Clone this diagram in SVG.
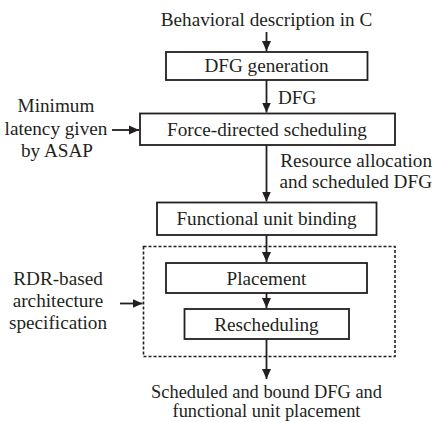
<svg xmlns="http://www.w3.org/2000/svg" width="433" height="422" viewBox="0 0 433 422">
<style>
text{font-family:"Liberation Serif","Times New Roman",serif;font-size:19.2px;fill:#231f20}
.c{text-anchor:middle}
.out{font-size:18.4px}
.box{fill:#fff;stroke:#231f20;stroke-width:1.8}
.dash{fill:none;stroke:#231f20;stroke-width:1.6;stroke-dasharray:3 2}
.ln{stroke:#231f20;stroke-width:1.8;fill:none;marker-end:url(#ah)}
</style>
<defs>
<marker id="ah" markerUnits="userSpaceOnUse" markerWidth="10" markerHeight="10" refX="10" refY="5" orient="auto">
<path d="M0,0.5 L10,5 L0,9.5 z" fill="#231f20"/>
</marker>
</defs>
<rect width="433" height="422" fill="#fff"/>
<g id="input"><text class="c" x="266.5" y="26">Behavioral description in C</text></g>
<g id="dfg-gen"><rect class="box" x="166" y="52" width="201.5" height="28"/><text class="c" x="266.5" y="72">DFG generation</text></g>
<g id="fds"><rect class="box" x="140" y="113.5" width="255" height="31.5"/><text class="c" x="267" y="136">Force-directed scheduling</text></g>
<g id="fub"><rect class="box" x="157" y="202.5" width="219.5" height="32.5"/><text class="c" x="266.5" y="225">Functional unit binding</text></g>
<g id="rdr-group"><rect class="dash" x="143.5" y="246.5" width="251.5" height="110"/></g>
<g id="placement"><rect class="box" x="166" y="263" width="201" height="30"/><text class="c" x="266.5" y="285">Placement</text></g>
<g id="resched"><rect class="box" x="184.5" y="309" width="164.5" height="30"/><text class="c" x="266.5" y="331">Rescheduling</text></g>
<g id="min-latency"><text class="c" x="56" y="112">Minimum</text><text class="c" x="56" y="135">latency given</text><text class="c" x="57" y="157">by ASAP</text></g>
<g id="rdr-spec"><text class="c" x="58" y="285">RDR-based</text><text class="c" x="58" y="307">architecture</text><text class="c" x="58" y="329">specification</text></g>
<g id="output"><text class="c out" x="266.5" y="398">Scheduled and bound DFG and</text><text class="c out" x="266.5" y="416.5">functional unit placement</text></g>
<g id="connectors">
<line class="ln" x1="266.5" y1="32" x2="266.5" y2="51"/>
<line class="ln" x1="266.5" y1="80" x2="266.5" y2="112.5"/>
<line class="ln" x1="266.5" y1="145" x2="266.5" y2="201.5"/>
<line class="ln" x1="266.5" y1="235" x2="266.5" y2="262"/>
<line class="ln" x1="266.5" y1="293" x2="266.5" y2="308"/>
<line class="ln" x1="266.5" y1="339" x2="266.5" y2="379"/>
<line class="ln" x1="112" y1="130" x2="139" y2="130"/>
<line class="ln" x1="120" y1="303.5" x2="142.5" y2="303.5"/>
<text x="278" y="104">DFG</text>
<text x="432" y="167" text-anchor="end">Resource allocation</text>
<text x="432" y="188" text-anchor="end">and scheduled DFG</text>
</g>
</svg>
